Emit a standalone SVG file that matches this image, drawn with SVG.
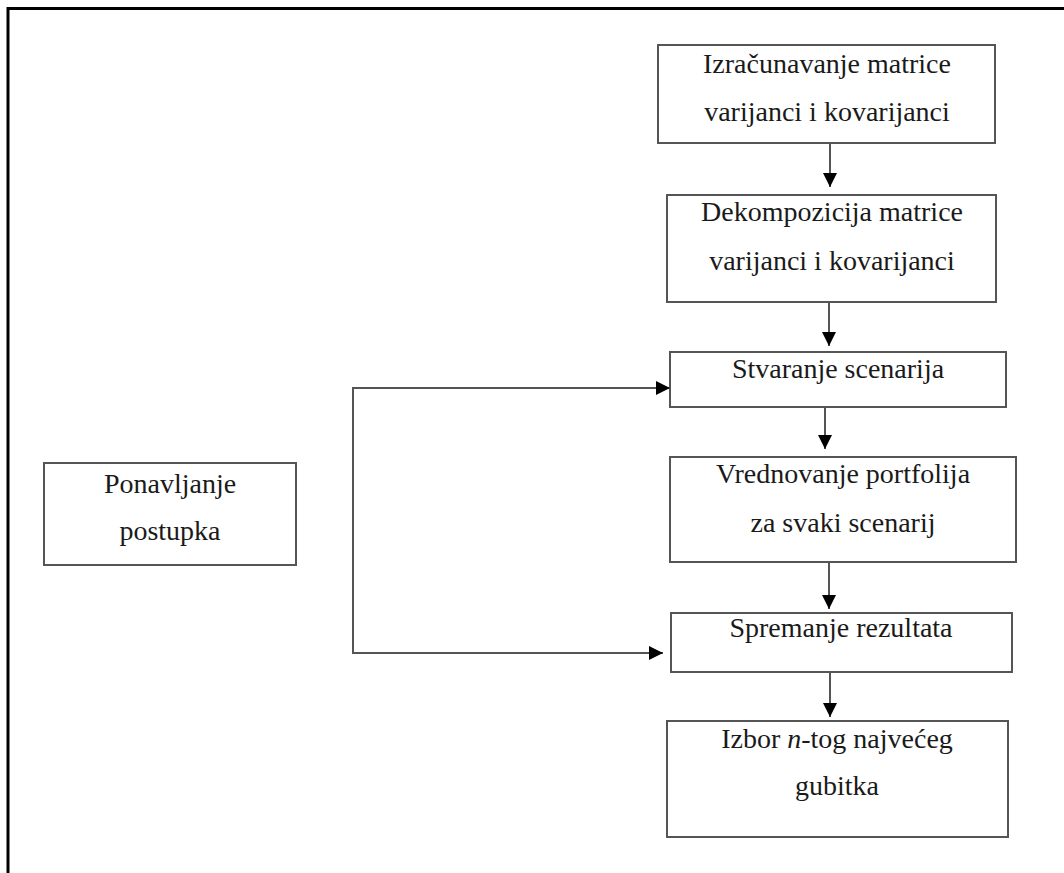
<svg xmlns="http://www.w3.org/2000/svg" width="1064" height="873" viewBox="0 0 1064 873">
<style>
.box{fill:#fff;stroke:#555;stroke-width:2}
.t{font-family:"Liberation Serif","Times New Roman",serif;font-size:28px;fill:#1a1a1a;text-anchor:middle}
.c{fill:none;stroke:#555;stroke-width:2}
</style>
<defs>
<marker id="ah" markerWidth="14" markerHeight="14" refX="14" refY="7" orient="auto" markerUnits="userSpaceOnUse">
<path d="M0,0 L14,7 L0,14 Z" fill="#000"/>
</marker>
</defs>
<rect width="1064" height="873" fill="#fff"/>
<path d="M8,873 L8,8.5 L1064,8.5" fill="none" stroke="#000" stroke-width="3"/>
<g id="n1"><rect class="box" x="658" y="45" width="337" height="98"/>
<text class="t" x="827" y="73">Izračunavanje matrice</text>
<text class="t" x="827" y="121">varijanci i kovarijanci</text></g>
<g id="n2"><rect class="box" x="667" y="195" width="329" height="107"/>
<text class="t" x="832" y="221">Dekompozicija matrice</text>
<text class="t" x="832" y="270">varijanci i kovarijanci</text></g>
<g id="n3"><rect class="box" x="670" y="352" width="336" height="55"/>
<text class="t" x="838" y="378">Stvaranje scenarija</text></g>
<g id="n4"><rect class="box" x="670" y="457" width="346" height="105"/>
<text class="t" x="843" y="483">Vrednovanje portfolija</text>
<text class="t" x="843" y="532">za svaki scenarij</text></g>
<g id="n5"><rect class="box" x="671" y="613" width="341" height="59"/>
<text class="t" x="841" y="637">Spremanje rezultata</text></g>
<g id="n6"><rect class="box" x="667" y="721" width="341" height="116"/>
<text class="t" x="837" y="748">Izbor <tspan font-style="italic">n</tspan>-tog najvećeg</text>
<text class="t" x="837" y="795">gubitka</text></g>
<g id="n7"><rect class="box" x="44" y="463" width="252" height="102"/>
<text class="t" x="170" y="493">Ponavljanje</text>
<text class="t" x="170" y="540">postupka</text></g>
<g id="connectors">
<line class="c" x1="830" y1="143" x2="830" y2="187" marker-end="url(#ah)"/>
<line class="c" x1="829" y1="302" x2="829" y2="346" marker-end="url(#ah)"/>
<line class="c" x1="825" y1="407" x2="825" y2="449" marker-end="url(#ah)"/>
<line class="c" x1="829" y1="562" x2="829" y2="609" marker-end="url(#ah)"/>
<line class="c" x1="830" y1="672" x2="830" y2="717" marker-end="url(#ah)"/>
<line class="c" x1="353" y1="388" x2="670" y2="388" marker-end="url(#ah)"/>
<path class="c" d="M353,387 L353,653 L663,653" marker-end="url(#ah)"/>
</g>
</svg>
